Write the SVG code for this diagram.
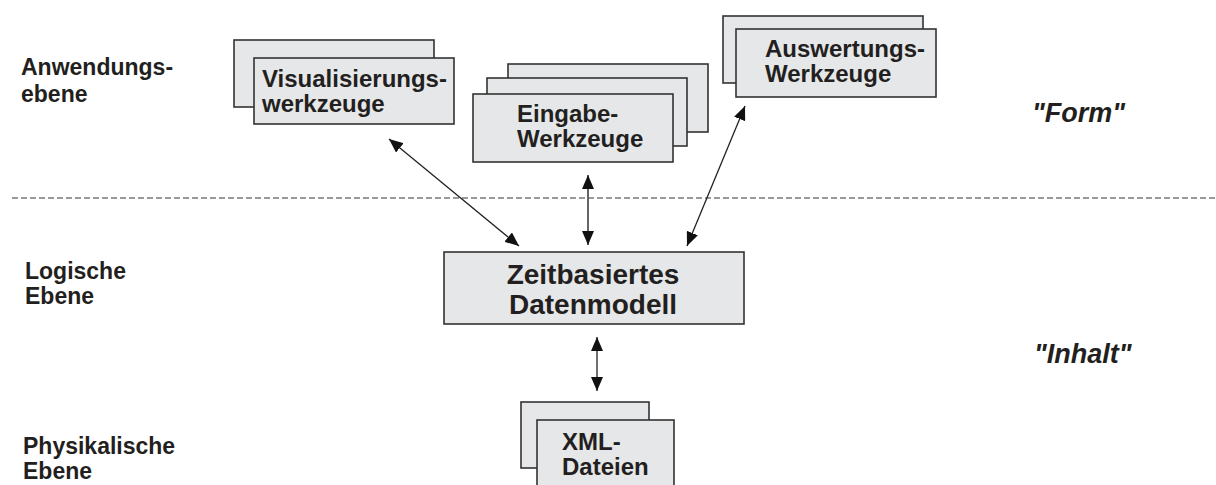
<svg xmlns="http://www.w3.org/2000/svg" width="1216" height="485" viewBox="0 0 1216 485">
<style>
.box{fill:#e6e7e8;stroke:#333;stroke-width:1.6}
.t{font-family:"Liberation Sans",Arial,sans-serif;font-weight:bold;fill:#231f20}
.lbl{font-size:23px}
.nt{font-size:24px}
.big{font-size:28px}
.q{font-size:27px;font-style:italic}
.ar{stroke:#222;stroke-width:1.3;fill:none;marker-start:url(#ah);marker-end:url(#ah)}
</style>
<defs>
<marker id="ah" viewBox="0 0 14 12" refX="14" refY="6" markerWidth="14" markerHeight="12" markerUnits="userSpaceOnUse" orient="auto-start-reverse">
<path d="M0,0 L14,6 L0,12 Z" fill="#111"/>
</marker>
</defs>
<rect width="1216" height="485" fill="#fff"/>
<g id="layer-line">
<line x1="12" y1="198" x2="1216" y2="198" stroke="#999" stroke-width="2" stroke-dasharray="6 3"/>
</g>
<g id="labels">
<text class="t lbl" x="21" y="75">Anwendungs-</text>
<text class="t lbl" x="21" y="102">ebene</text>
<text class="t lbl" x="25" y="279">Logische</text>
<text class="t lbl" x="25" y="304">Ebene</text>
<text class="t lbl" x="23" y="454">Physikalische</text>
<text class="t lbl" x="23" y="479">Ebene</text>
<text class="t q" x="1032" y="122">"Form"</text>
<text class="t q" x="1034" y="363">"Inhalt"</text>
</g>
<g id="node-visualisierung">
<rect class="box" x="234" y="40" width="200" height="67"/>
<rect class="box" x="254" y="58" width="200" height="66"/>
<text class="t nt" x="262" y="87">Visualisierungs-</text>
<text class="t nt" x="262" y="112">werkzeuge</text>
</g>
<g id="node-eingabe">
<rect class="box" x="508" y="64" width="200" height="68"/>
<rect class="box" x="487" y="78" width="200" height="68"/>
<rect class="box" x="473" y="94" width="200" height="68"/>
<text class="t nt" x="517" y="122">Eingabe-</text>
<text class="t nt" x="517" y="147">Werkzeuge</text>
</g>
<g id="node-auswertung">
<rect class="box" x="723" y="16" width="200" height="67"/>
<rect class="box" x="736" y="29" width="200" height="68"/>
<text class="t nt" x="765" y="57">Auswertungs-</text>
<text class="t nt" x="765" y="82">Werkzeuge</text>
</g>
<g id="node-datenmodell">
<rect class="box" x="444" y="252" width="300" height="72"/>
<text class="t big" x="593" y="284" text-anchor="middle">Zeitbasiertes</text>
<text class="t big" x="593" y="314" text-anchor="middle">Datenmodell</text>
</g>
<g id="node-xml">
<rect class="box" x="521" y="402" width="128" height="66"/>
<rect class="box" x="537" y="420" width="137" height="72"/>
<text class="t nt" x="562" y="450">XML-</text>
<text class="t nt" x="562" y="475">Dateien</text>
</g>
<g id="connectors">
<line class="ar" x1="389" y1="139" x2="519" y2="246"/>
<line class="ar" x1="588" y1="175" x2="588" y2="245" style="stroke:#555;stroke-width:1.8"/>
<line class="ar" x1="745" y1="106" x2="687" y2="246"/>
<line class="ar" x1="597" y1="337" x2="597" y2="391"/>
</g>
</svg>
